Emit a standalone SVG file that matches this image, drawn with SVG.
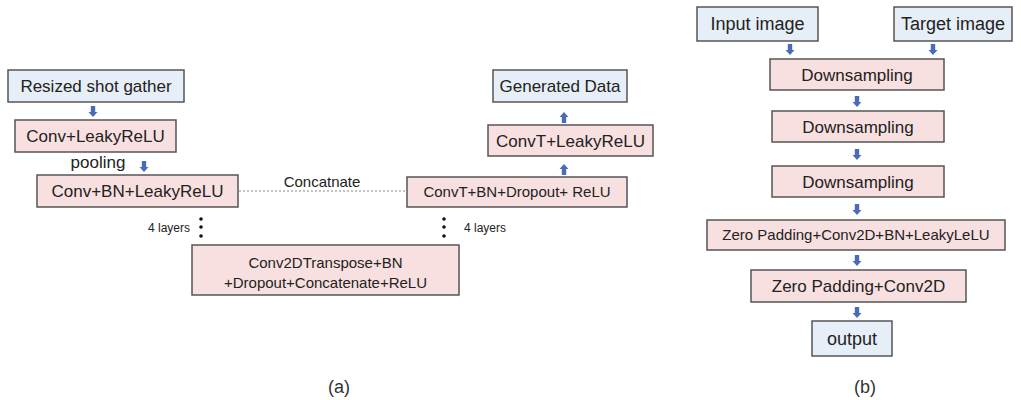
<svg xmlns="http://www.w3.org/2000/svg" width="1021" height="400" viewBox="0 0 1021 400">
<defs>
<style>
.box{stroke:#555;stroke-width:1.5}
.pink{fill:#f9e0e0}
.blue{fill:#e6eff7}
text{font-family:"Liberation Sans",Arial,sans-serif;fill:#222;text-anchor:middle}
.t17{font-size:17px}
.t15{font-size:15px}
.t18{font-size:18px}
.small{font-size:12px}
.cap{font-size:18px;fill:#333}
.arr{fill:#4a6cb8}
.dot{fill:#111}
</style>
<path id="ad" d="M-2.2,0 H2.2 V6 H4.5 L0,11 L-4.5,6 H-2.2 Z"/>
</defs>
<rect width="1021" height="400" fill="#fff"/>

<g id="connectors">
<line x1="239" y1="191" x2="407" y2="191" stroke="#888" stroke-width="1" stroke-dasharray="2,2"/>
<text class="t15" x="322" y="187">Concatnate</text>
<use href="#ad" class="arr" x="93" y="106"/>
<use href="#ad" class="arr" x="144" y="161"/>
<use href="#ad" class="arr" transform="translate(564,175) rotate(180)"/>
<use href="#ad" class="arr" transform="translate(564,123) rotate(180)"/>
<use href="#ad" class="arr" x="790" y="44"/>
<use href="#ad" class="arr" x="933" y="44"/>
<use href="#ad" class="arr" x="857" y="96"/>
<use href="#ad" class="arr" x="857" y="149"/>
<use href="#ad" class="arr" x="857" y="204"/>
<use href="#ad" class="arr" x="857" y="255"/>
<use href="#ad" class="arr" x="857" y="307"/>
<g id="dots-left"><circle class="dot" cx="201" cy="219" r="1.8"/><circle class="dot" cx="201" cy="227" r="1.8"/><circle class="dot" cx="201" cy="236" r="1.8"/></g>
<g id="dots-right"><circle class="dot" cx="444" cy="219" r="1.8"/><circle class="dot" cx="444" cy="227" r="1.8"/><circle class="dot" cx="444" cy="236" r="1.8"/></g>
</g>

<g id="n-resized"><rect class="box blue" x="8" y="70" width="176" height="32"/><text class="t17" x="96" y="92">Resized shot gather</text></g>
<g id="n-conv1"><rect class="box pink" x="15" y="120" width="161" height="32"/><text class="t17" x="95.5" y="142">Conv+LeakyReLU</text></g>
<text class="t17" x="98" y="168">pooling</text>
<g id="n-conv2"><rect class="box pink" x="37" y="175" width="201" height="32"/><text class="t17" x="137.5" y="197">Conv+BN+LeakyReLU</text></g>
<text class="small" x="169" y="232">4 layers</text>
<g id="n-bottleneck"><rect class="box pink" x="192" y="245" width="267" height="50"/><text class="t15" x="325.5" y="268">Conv2DTranspose+BN</text><text class="t15" x="325.5" y="288">+Dropout+Concatenate+ReLU</text></g>
<text class="small" x="485" y="232">4 layers</text>
<g id="n-convt1"><rect class="box pink" x="407" y="177" width="220" height="30"/><text class="t15" x="517" y="197">ConvT+BN+Dropout+ ReLU</text></g>
<g id="n-convt2"><rect class="box pink" x="488" y="125" width="165" height="31"/><text class="t17" x="570.5" y="147">ConvT+LeakyReLU</text></g>
<g id="n-generated"><rect class="box blue" x="493" y="70" width="134" height="32"/><text class="t17" x="560" y="92">Generated Data</text></g>
<text class="cap" x="339" y="393">(a)</text>

<g id="n-input"><rect class="box blue" x="697" y="7" width="121" height="34"/><text class="t18" x="757.5" y="30">Input image</text></g>
<g id="n-target"><rect class="box blue" x="894" y="7" width="118" height="34"/><text class="t18" x="953" y="30">Target image</text></g>
<g id="n-down1"><rect class="box pink" x="770" y="59" width="174" height="31"/><text class="t17" x="857" y="81">Downsampling</text></g>
<g id="n-down2"><rect class="box pink" x="772" y="111" width="172" height="31"/><text class="t17" x="858" y="133">Downsampling</text></g>
<g id="n-down3"><rect class="box pink" x="772" y="166" width="172" height="31"/><text class="t17" x="858" y="188">Downsampling</text></g>
<g id="n-zpconv"><rect class="box pink" x="707" y="220" width="298" height="30"/><text class="t15" x="856" y="240">Zero Padding+Conv2D+BN+LeakyLeLU</text></g>
<g id="n-zp"><rect class="box pink" x="751" y="270" width="215" height="32"/><text class="t17" x="858.5" y="292">Zero Padding+Conv2D</text></g>
<g id="n-output"><rect class="box blue" x="812" y="321" width="80" height="35"/><text class="t18" x="852" y="345">output</text></g>
<text class="cap" x="865" y="393">(b)</text>
</svg>
